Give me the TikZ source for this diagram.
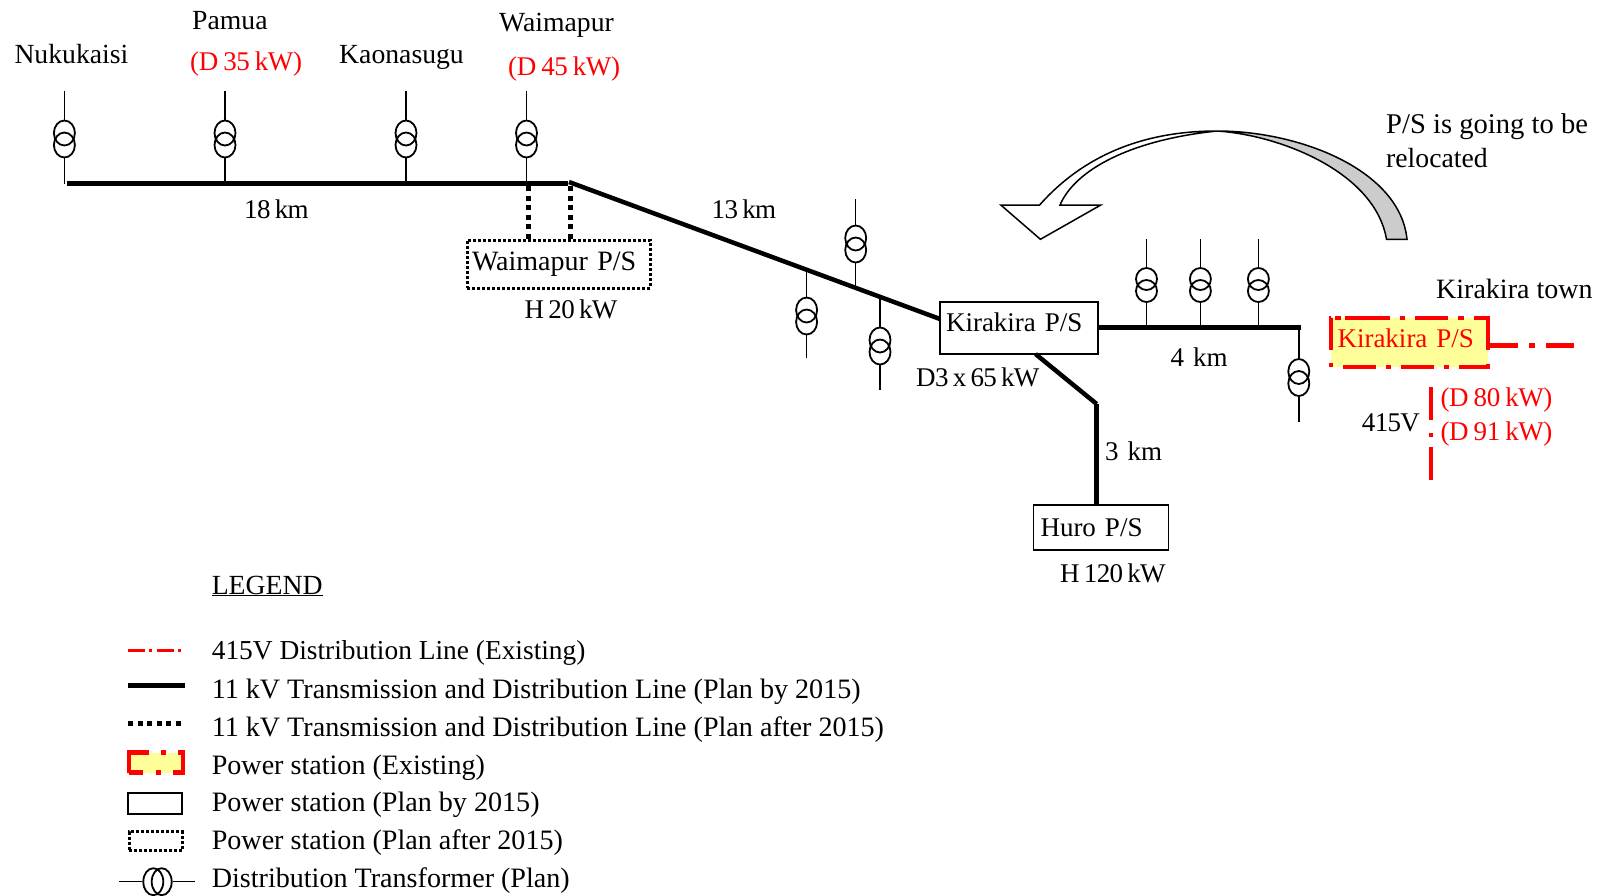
\documentclass[tikz,border=0pt]{standalone}
\usepackage{fontspec}
\setmainfont{Liberation Serif}
\newfontfamily\tightrm[LetterSpace=-2.5]{Liberation Serif}
\newfontfamily\redrm[LetterSpace=-1.5]{Liberation Serif}
\usepackage{xcolor}
\usetikzlibrary{positioning, shapes.geometric}
\definecolor{psyellow}{HTML}{FFFF99}
\definecolor{arrowgray}{HTML}{CCCCCC}
\newcommand{\tightfont}{\fontsize{27}{30}\tightrm\spaceskip=4.25pt\relax}
\newcommand{\widefont}{\fontsize{27}{30}\selectfont\spaceskip=9pt\relax}
\newcommand{\redfont}{\fontsize{27}{30}\redrm\spaceskip=5pt\relax}
\newcommand{\xfmr}[5]{%
    \coordinate (#1top) at (#2,#3);
    \coordinate (#1bot) at (#2,#5);
    \node[xfmrcoil] (#1up) at (#2,#4-6) {};
    \node[xfmrcoil] (#1lo) at (#2,#4+6) {};
    \draw[stem] (#1top) -- (#1up.north);
    \draw[stem] (#1lo.south) -- (#1bot);
}

\begin{document}
\begin{tikzpicture}[
    x=1pt, y=-1pt,
    lbl/.style={anchor=west, inner sep=0pt, text height=18pt, text depth=6pt, font=\fontsize{27.7}{30}\selectfont},
    lbltight/.style={lbl, font=\tightfont},
    lblwide/.style={lbl, font=\widefont},
    leg/.style={lbl, font=\fontsize{28.1}{30}\selectfont},
    redlbl/.style={lbl, text=red, font=\redfont},
    xfmrcoil/.style={draw, ellipse, inner sep=0pt, line width=1.8pt, minimum width=21pt, minimum height=25pt},
    legcoil/.style={draw, ellipse, inner sep=0pt, line width=1.8pt, minimum width=20pt, minimum height=27pt},
    stem/.style={line width=1.5pt},
    line11/.style={line width=5pt},
    dot11/.style={line width=5pt, dash pattern=on 5pt off 4.5pt},
    line415/.style={red, line width=4.5pt, dash pattern=on 33pt off 10pt on 6pt off 10pt},
    psbox/.style={draw, rectangle, line width=1.6pt, inner sep=0pt, align=left, font=\fontsize{27}{30}\selectfont},
    psdot/.style={psbox, line width=3pt, dash pattern=on 3pt off 2pt},
    psred/.style={psbox, fill=psyellow, text=red, draw=red, line width=4.5pt, dash pattern=on 0pt off 12pt on 33pt off 10pt on 5pt off 10pt on 33pt off 10pt on 5pt off 10pt on 32pt off 14pt on 46pt off 10pt on 6pt off 10pt on 33pt off 10pt on 5pt off 10pt on 45pt off 4pt on 6pt off 4pt on 32pt off 13pt on 4pt off 0pt}
]
    \useasboundingbox (0,0) rectangle (1603,895);

    % Power stations
    \node[psdot, minimum width=183pt, minimum height=48pt, text width=173pt, font=\fontsize{28}{30}\selectfont] (waimapur) at (558.5,264) {Waimapur P/S};
    \node[psbox, minimum width=158pt, minimum height=52pt, text width=146pt, text depth=11pt] (kirakira) at (1019,328) {Kirakira P/S};
    \node[psbox, minimum width=135pt, minimum height=45pt, text width=121pt] (huro) at (1101,527.5) {Huro P/S};
    \node[psred, minimum width=157pt, minimum height=49pt, text width=144pt, text depth=9pt] (kirared) at (1409.5,342.5) {Kirakira P/S};

    % 11 kV lines
    \coordinate (busL) at (66.5,183.5);
    \coordinate (busR) at (568,183.5);
    \coordinate (diagstart) at (569,182);
    \coordinate (diagend) at (940,319);
    \coordinate (bend) at (1096.7,404);
    \coordinate (bus4) at (1301,327.5);
    \coordinate (huroup) at (1035.5,354);
    \draw[line11] (busL) -- (busR);
    \draw[line11, line width=4.5pt] (diagstart) -- (diagend);
    \draw[line11] (kirakira.east |- bus4) -- (bus4);
    \draw[line11, line width=4.5pt] (huroup) -- (bend);
    \draw[line11] (bend) -- (bend |- huro.north);

    % Dotted links
    \coordinate (dotA) at (528.3,186);
    \coordinate (dotB) at (570.3,186);
    \draw[dot11] (dotA) -- (dotA |- waimapur.north);
    \draw[dot11] (dotB) -- (dotB |- waimapur.north);

    % 415 V lines
    \coordinate (townR) at (1576,345.5);
    \coordinate (feedT) at (1430.6,387);
    \coordinate (feedB) at (1430.6,480);
    \draw[line415, dash pattern=on 28pt off 11pt on 6pt off 11pt] (kirared.east |- townR) -- (townR);
    \draw[line415, line width=4pt, dash pattern=on 33pt off 13pt on 4pt off 10pt] (feedT) -- (feedB);

    % Transformers
    \xfmr{nuku}{64.4}{91}{139}{183.5}
    \xfmr{pamua}{225}{91}{139}{183.5}
    \xfmr{kaona}{406}{91}{139}{183.5}
    \xfmr{waima}{526.5}{91}{139}{183.5}
    \xfmr{diagA}{855.7}{199}{244}{288}
    \xfmr{diagB}{806.6}{269.6}{316}{358}
    \xfmr{diagC}{880}{296.9}{346}{389.5}
    \begin{scope}[xfmrcoil/.append style={minimum height=22pt}]
        \xfmr{townA}{1146.5}{239}{285}{327.5}
        \xfmr{townB}{1200.4}{239}{285}{327.5}
        \xfmr{townC}{1258.4}{239}{285}{327.5}
    \end{scope}
    \xfmr{townD}{1298.8}{327.5}{377.5}{421.7}

    % Relocation arrow
    \path[fill=arrowgray, draw=black, line width=1.5pt] (1407,239.3) .. controls (1400,170) and (1300,131) .. (1217,131)
        .. controls (1280,135) and (1375,172) .. (1386.5,239.3) -- cycle;
    \draw[line width=1.5pt, fill=white] (1217,131) .. controls (1130,131) and (1075,165) .. (1039.6,205)
        -- (1000.8,205) -- (1040.4,239.3) -- (1100.8,205) -- (1060,205)
        .. controls (1075,170) and (1130,140) .. (1217,131) -- cycle;

    % Labels
    \node[lbl] (lnuku) at (14.3,57) {Nukukaisi};
    \node[lbl] (lpamua) at (192,23.5) {Pamua};
    \node[redlbl] (lpamuad) at (190,64) {(D 35 kW)};
    \node[lbl] (lkaona) at (339,57) {Kaonasugu};
    \node[lbl] (lwaima) at (499,25.5) {Waimapur};
    \node[redlbl] (lwaimad) at (508,69.5) {(D 45 kW)};
    \node[lbltight] (l18) at (244,212.6) {18 km};
    \node[lbltight] (l13) at (711.5,212.6) {13 km};
    \node[lbltight] (lh20) at (524.5,312) {H 20 kW};
    \node[lbltight] (ld3) at (916,380) {D3 x 65 kW};
    \node[lblwide] (l4) at (1170.5,360) {4 km};
    \node[lblwide] (l3) at (1105,454) {3 km};
    \node[lbltight] (lh120) at (1060,576.5) {H 120 kW};
    \node[lbl, font=\fontsize{28.6}{30}\selectfont] (lreloc1) at (1386,127) {P/S is going to be};
    \node[lbl] (lreloc2) at (1386,161.5) {relocated};
    \node[lbl, font=\fontsize{28}{30}\selectfont] (ltown) at (1436,292) {Kirakira town};
    \node[lbltight] (l415) at (1361.7,425) {415V};
    \node[redlbl] (ld80) at (1440.4,400.7) {(D 80 kW)};
    \node[redlbl] (ld91) at (1440.4,434.4) {(D 91 kW)};

    % Legend
    \node[lbl] (legtitle) at (211.6,588) {\underline{LEGEND}};
    \node[leg, font=\fontsize{27.4}{30}\selectfont] (leg1) at (211.6,653) {415V Distribution Line (Existing)};
    \node[leg] (leg2) at (211.6,692) {11 kV Transmission and Distribution Line (Plan by 2015)};
    \node[leg] (leg3) at (211.6,730) {11 kV Transmission and Distribution Line (Plan after 2015)};
    \node[leg] (leg4) at (211.6,768) {Power station (Existing)};
    \node[leg] (leg5) at (211.6,805.5) {Power station (Plan by 2015)};
    \node[leg] (leg6) at (211.6,843) {Power station (Plan after 2015)};
    \node[leg] (leg7) at (211.6,881) {Distribution Transformer (Plan)};

    \coordinate (sym1a) at (128,650.3);
    \coordinate (sym1b) at (182,650.3);
    \coordinate (sym2a) at (128,685);
    \coordinate (sym2b) at (185,685);
    \coordinate (sym3a) at (128,723);
    \coordinate (sym3b) at (182,723);
    \draw[red, line width=2.5pt, dash pattern=on 17pt off 4pt on 3pt off 5pt] (sym1a) -- (sym1b);
    \draw[line11] (sym2a) -- (sym2b);
    \draw[dot11] (sym3a) -- (sym3b);
    \node[psred, minimum width=54pt, minimum height=20pt, dash pattern=on 14pt off 13pt on 5pt off 12pt on 35pt off 12pt on 5pt off 12pt on 40pt off 0pt] (sym4) at (156,762.7) {};
    \node[psbox, line width=2pt, minimum width=54pt, minimum height=20.5pt] (sym5) at (155,803.4) {};
    \node[psdot, minimum width=53pt, minimum height=19pt] (sym6) at (155.5,841.2) {};
    \node[legcoil] (sym7a) at (153.3,881.7) {};
    \node[legcoil] (sym7b) at (161.7,881.7) {};
    \coordinate (sym7l) at (119,881.7);
    \coordinate (sym7r) at (195,881.7);
    \draw[stem] (sym7l) -- (sym7a.west);
    \draw[stem] (sym7b.east) -- (sym7r);
\end{tikzpicture}
\end{document}
